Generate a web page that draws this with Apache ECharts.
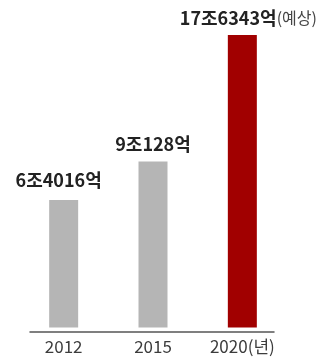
<!DOCTYPE html>
<html>
<head>
<meta charset="utf-8">
<script src="https://cdn.jsdelivr.net/npm/echarts@6/dist/echarts.min.js"></script>
<style>
html,body{margin:0;padding:0;background:#fff;}
#chart{width:322px;height:358px;}
</style>
</head>
<body>
<div id="chart"></div>
<script>
// Data (values in 억 won)
const categories = ['2012', '2015', '2020(년)'];
const values = [64016, 90128, 176343];
const valueLabels = ['6조4016억', '9조128억', '17조6343억'];
const labelSuffix = ['', '', '(예상)'];
const forecast = [false, false, true];

// The original graphic's value axis does not start at zero
const AXIS_MIN = -22800;
const AXIS_MAX = 186500;
const GRAY = '#b5b5b5';
const RED = '#a10000';
const FONT = '"Noto Sans CJK KR", "Noto Sans", sans-serif';

const chart = echarts.init(document.getElementById('chart'), null, {renderer: 'canvas'});

const colorOf = i => forecast[i] ? RED : GRAY;

const seriesData = values.map((v, i) => ({
  value: v,
  itemStyle: {color: colorOf(i)},
  label: {
    formatter: () => labelSuffix[i] ? valueLabels[i] + '{s|' + labelSuffix[i] + '}' : valueLabels[i],
    offset: forecast[i] ? [6, 0] : (i === 0 ? [-5, -3] : [0, 0])
  }
}));

// portion of each bar below zero, down to the axis floor
const baseData = values.map((v, i) => ({
  value: AXIS_MIN,
  itemStyle: {color: colorOf(i)}
}));

chart.setOption({
  backgroundColor: '#ffffff',
  animation: false,
  grid: [
    {left: 19, right: 35, top: 20, bottom: 30.5},
    {left: 30, right: 48, top: 20, bottom: 26}
  ],
  xAxis: [
    {
      type: 'category',
      gridIndex: 0,
      data: categories,
      axisLine: {show: false},
      axisTick: {show: false},
      axisLabel: {
        margin: 11,
        color: '#3c3c3c',
        fontSize: 17,
        fontFamily: FONT
      }
    },
    {
      type: 'category',
      gridIndex: 1,
      data: categories,
      axisLine: {show: true, lineStyle: {color: '#555555', width: 1.5}},
      axisTick: {show: false},
      axisLabel: {show: false}
    }
  ],
  yAxis: [
    {
      type: 'value',
      gridIndex: 0,
      min: AXIS_MIN,
      max: AXIS_MAX,
      show: false,
      splitLine: {show: false}
    },
    {
      type: 'value',
      gridIndex: 1,
      show: false,
      splitLine: {show: false}
    }
  ],
  series: [
    {
      type: 'bar',
      xAxisIndex: 0,
      yAxisIndex: 0,
      stack: 'bar',
      barWidth: 29,
      data: baseData,
      label: {show: false},
      silent: true
    },
    {
      type: 'bar',
      xAxisIndex: 0,
      yAxisIndex: 0,
      stack: 'bar',
      barWidth: 29,
      data: seriesData,
      label: {
        show: true,
        position: 'top',
        distance: 8,
        color: '#222222',
        fontSize: 18,
        fontWeight: 'bold',
        fontFamily: FONT,
        rich: {
          s: {fontSize: 16, fontWeight: 'normal', color: '#444444', fontFamily: FONT}
        }
      }
    }
  ]
});
</script>
</body>
</html>
